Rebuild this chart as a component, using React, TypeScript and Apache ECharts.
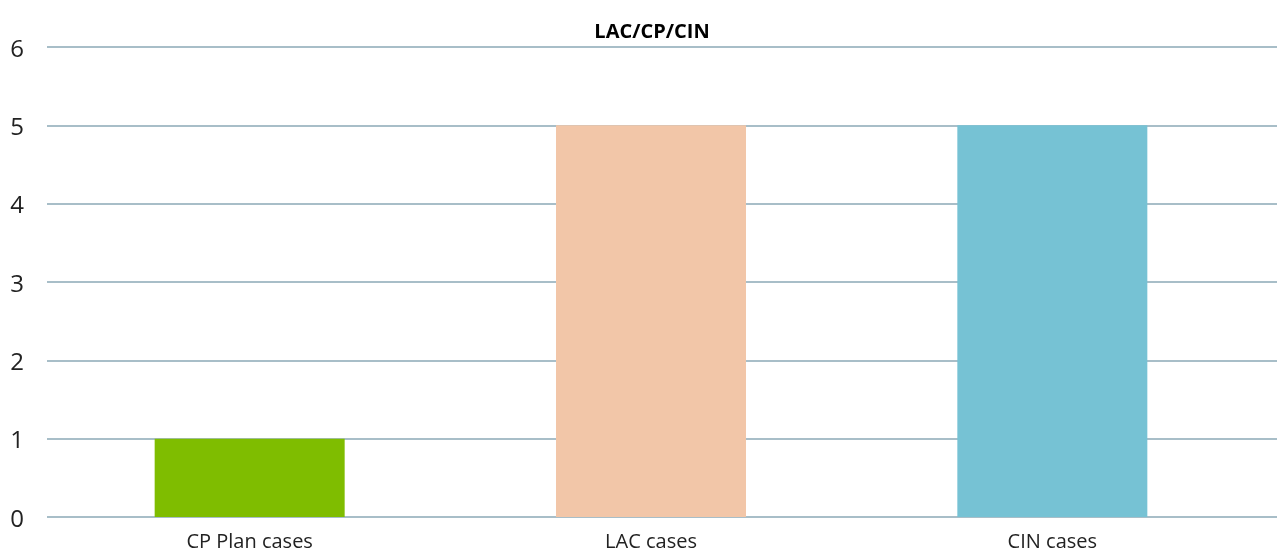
import React, { useEffect, useRef } from "react";
import * as echarts from "echarts";

const title = "LAC/CP/CIN";
const categories = ["CP Plan cases", "LAC cases", "CIN cases"];
const values = [1, 5, 5];
const barColors = ["#7fbd00", "#f2c6a8", "#76c2d4"];
const yTicks = { min: 0, max: 6, interval: 1 };

export default function App() {
  const ref = useRef<HTMLDivElement>(null);
  useEffect(() => {
    if (!ref.current) return;
    const chart = echarts.init(ref.current, undefined, { renderer: "svg" });
    const font = "'Open Sans', 'Noto Sans', sans-serif";
    chart.setOption({
      animation: false,
      title: {
        text: title,
        left: 647,
        textAlign: "center",
        top: 15,
        textStyle: { fontFamily: font, fontSize: 20, fontWeight: "bold", color: "#000" },
      },
      grid: [
        { left: 49, right: 24, top: 47, bottom: 35, containLabel: false },
        { left: 47, right: 0, top: 47, bottom: 35, containLabel: false },
      ],
      xAxis: [
        {
          type: "category",
          gridIndex: 0,
          data: categories,
          axisLine: { show: false },
          axisTick: { show: false },
          axisLabel: { fontFamily: font, fontSize: 20, color: "#222", margin: 13 },
        },
        {
          type: "category",
          gridIndex: 1,
          data: categories,
          show: false,
        },
      ],
      yAxis: [
        {
          type: "value",
          gridIndex: 0,
          ...yTicks,
          show: false,
          splitLine: { show: false },
        },
        {
          type: "value",
          gridIndex: 1,
          ...yTicks,
          axisLine: { show: false },
          axisTick: { show: false },
          axisLabel: {
            fontFamily: font,
            fontSize: 24,
            color: "#222",
            align: "center",
            margin: 30,
          },
          splitLine: { show: true, lineStyle: { color: "#a8bec8", width: 2 } },
        },
      ],
      series: [
        {
          type: "bar",
          xAxisIndex: 0,
          yAxisIndex: 0,
          barWidth: 190,
          z: 3,
          data: values.map((v, i) => ({ value: v, itemStyle: { color: barColors[i] } })),
        },
      ],
    });
    return () => chart.dispose();
  }, []);
  return (
    <div
      ref={ref}
      style={{ position: "fixed", left: 0, top: 0, width: 1277, height: 552 }}
    />
  );
}
